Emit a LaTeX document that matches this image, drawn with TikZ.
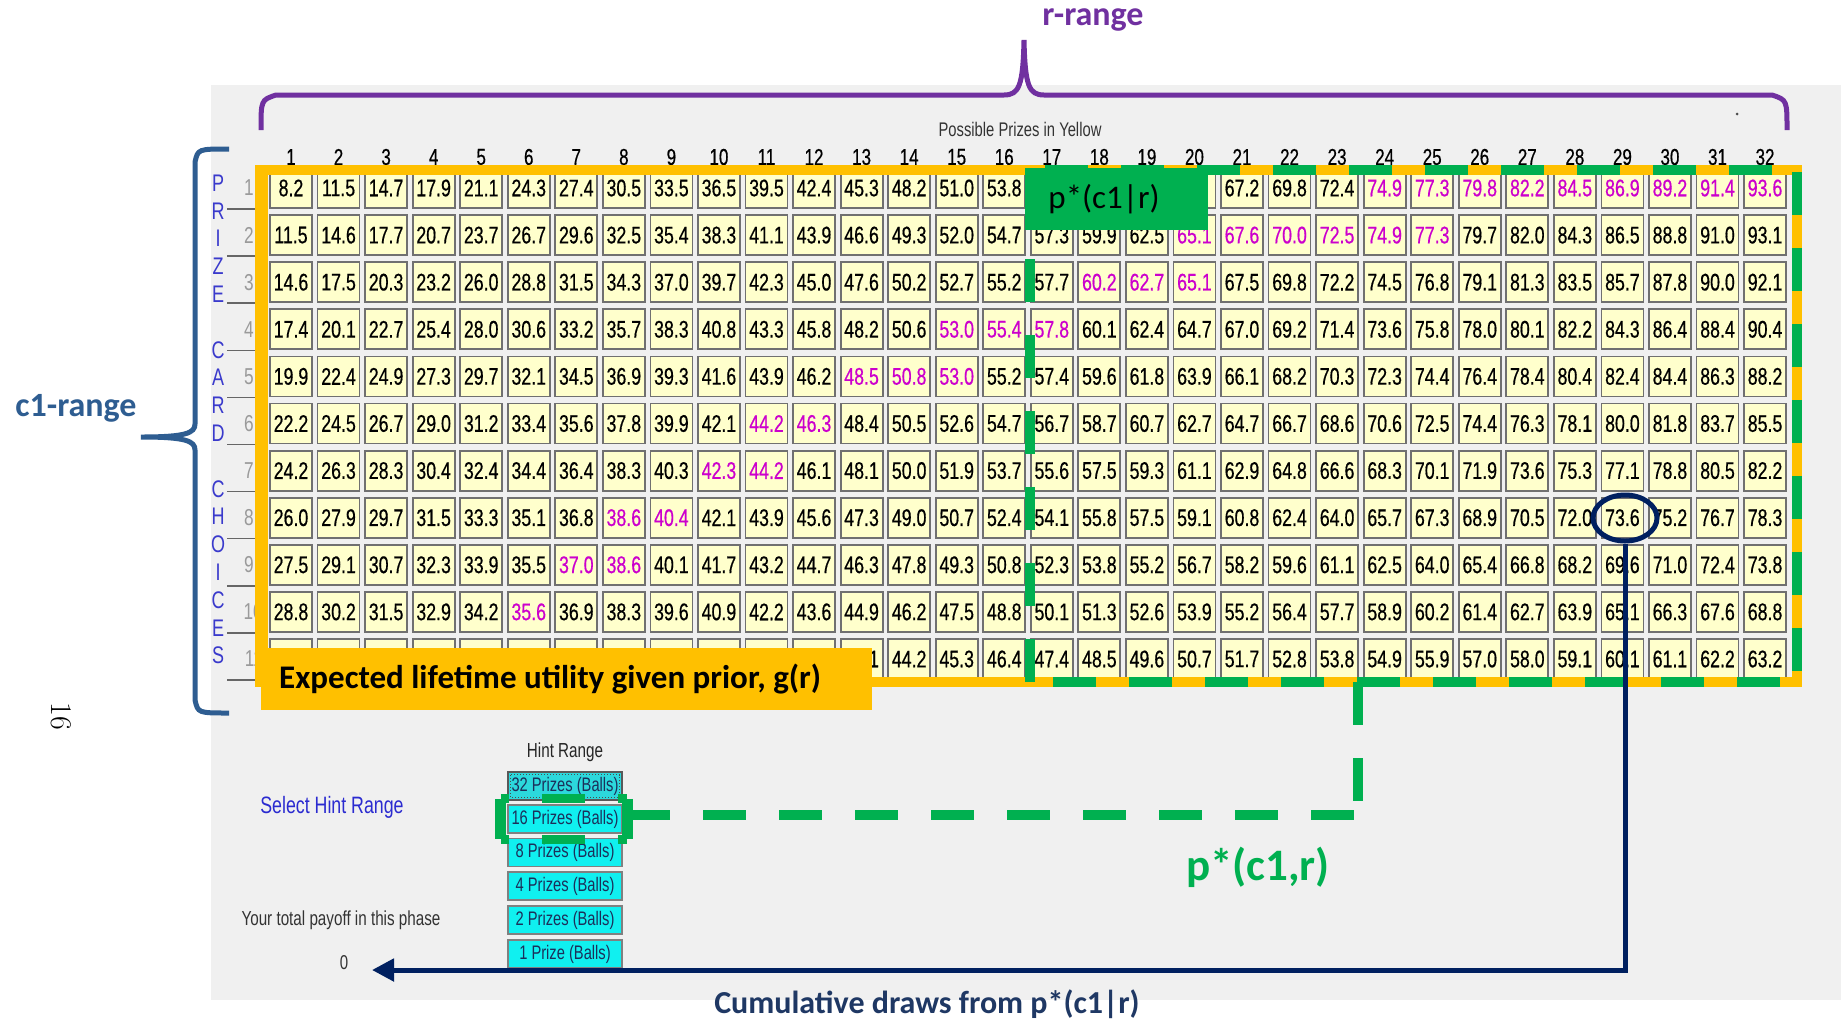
\documentclass[tikz,border=0pt]{standalone}
\usepackage{fontspec}
\newfontfamily\narfont[FakeStretch=0.75]{Liberation Sans}
\newfontfamily\cellfont[FakeStretch=0.74,FakeBold=0.5]{Liberation Sans}
\newfontfamily\calfont{Carlito}
\newcommand{\nocellval}{}
\usetikzlibrary{shapes.geometric,arrows.meta}
\definecolor{bggray}{HTML}{F0F0F0}
\definecolor{orng}{HTML}{FFC000}
\definecolor{grn}{HTML}{00B050}
\definecolor{purp}{HTML}{7030A0}
\definecolor{navy}{HTML}{002060}
\definecolor{navytxt}{HTML}{1F3864}
\definecolor{bblue}{HTML}{2E5D91}
\definecolor{mag}{HTML}{CC00CC}
\definecolor{cellyel}{HTML}{FFFFCC}
\definecolor{cellbd}{HTML}{707070}
\definecolor{cyanbtn}{HTML}{10F0F0}
\definecolor{selbtn}{HTML}{2CD8DC}
\definecolor{btntxt}{HTML}{1C2F5A}
\definecolor{selblue}{HTML}{2B2BD0}
\definecolor{lettblue}{HTML}{3A3ACC}
\definecolor{rowgray}{HTML}{9A9A9A}
\begin{document}
\begin{tikzpicture}[x=1pt,y=-1pt,
  cellbox/.style={rectangle,minimum width=42pt,minimum height=40pt,inner sep=0pt,
    fill=cellyel,draw=cellbd,line width=1.8pt,font=\cellfont\fontsize{24}{24}\selectfont},
  colhead/.style={inner sep=0pt,font=\cellfont\fontsize{23}{23}\selectfont},
  rowlab/.style={inner sep=0pt,text=rowgray,font=\narfont\fontsize{23}{23}\selectfont},
  letter/.style={inner sep=0pt,text=lettblue,font=\narfont\fontsize{24}{24}\selectfont},
  btn/.style={rectangle,minimum width=114pt,minimum height=28pt,inner sep=0pt,
    fill=cyanbtn,draw=gray,line width=1.2pt,text=btntxt,font=\narfont\fontsize{19.6}{20}\selectfont},
  gdash/.style={grn,line width=10pt,dash pattern=on 43pt off 33pt},
  calb/.style={inner sep=0pt,font=\calfont\bfseries\fontsize{33}{33}\selectfont},
]
\useasboundingbox (0,0) rectangle (1841,1021);
\fill[white] (0,0) rectangle (1841,1021);
\fill[bggray] (211,85) rectangle (1841,1000);

% header
\node[inner sep=0pt,text=black!80,font=\narfont\fontsize{19.7}{20}\selectfont] (pp) at (1020,129) {Possible Prizes in Yellow};
\fill[black!70] (1737,114) circle (1.5pt);
\foreach \c in {1,...,32}
  \node[colhead] (h\c) at ({291+(\c-1)*47.55},157) {\c};

% row labels
\foreach \r in {1,...,11}{
  \draw[black!60,line width=1.5pt] (227,{188+(\r-1)*47.1+21}) -- (258,{188+(\r-1)*47.1+21});
}
\foreach \r in {1,...,9}
  \node[rowlab] (rl\r) at (249,{188+(\r-1)*47.1}) {\r};
\foreach \r in {10,11}
  \node[rowlab,anchor=east] (rl\r) at (263,{188+(\r-1)*47.1}) {\r};
\foreach \k/\L in {0/P,1/R,2/I,3/Z,4/E,6/C,7/A,8/R,9/D,11/C,12/H,13/O,14/I,15/C,16/E,17/S}
  \node[letter] (L\k) at (218,{183+\k*27.8}) {\L};

% cells
\foreach \r/\a/\b/\vals in {%
1/24/32/{8.2,11.5,14.7,17.9,21.1,24.3,27.4,30.5,33.5,36.5,39.5,42.4,45.3,48.2,51.0,53.8,\nocellval,\nocellval,\nocellval,\nocellval,67.2,69.8,72.4,74.9,77.3,79.8,82.2,84.5,86.9,89.2,91.4,93.6},
2/20/25/{11.5,14.6,17.7,20.7,23.7,26.7,29.6,32.5,35.4,38.3,41.1,43.9,46.6,49.3,52.0,54.7,57.3,59.9,62.5,65.1,67.6,70.0,72.5,74.9,77.3,79.7,82.0,84.3,86.5,88.8,91.0,93.1},
3/18/20/{14.6,17.5,20.3,23.2,26.0,28.8,31.5,34.3,37.0,39.7,42.3,45.0,47.6,50.2,52.7,55.2,57.7,60.2,62.7,65.1,67.5,69.8,72.2,74.5,76.8,79.1,81.3,83.5,85.7,87.8,90.0,92.1},
4/15/17/{17.4,20.1,22.7,25.4,28.0,30.6,33.2,35.7,38.3,40.8,43.3,45.8,48.2,50.6,53.0,55.4,57.8,60.1,62.4,64.7,67.0,69.2,71.4,73.6,75.8,78.0,80.1,82.2,84.3,86.4,88.4,90.4},
5/13/15/{19.9,22.4,24.9,27.3,29.7,32.1,34.5,36.9,39.3,41.6,43.9,46.2,48.5,50.8,53.0,55.2,57.4,59.6,61.8,63.9,66.1,68.2,70.3,72.3,74.4,76.4,78.4,80.4,82.4,84.4,86.3,88.2},
6/11/12/{22.2,24.5,26.7,29.0,31.2,33.4,35.6,37.8,39.9,42.1,44.2,46.3,48.4,50.5,52.6,54.7,56.7,58.7,60.7,62.7,64.7,66.7,68.6,70.6,72.5,74.4,76.3,78.1,80.0,81.8,83.7,85.5},
7/10/11/{24.2,26.3,28.3,30.4,32.4,34.4,36.4,38.3,40.3,42.3,44.2,46.1,48.1,50.0,51.9,53.7,55.6,57.5,59.3,61.1,62.9,64.8,66.6,68.3,70.1,71.9,73.6,75.3,77.1,78.8,80.5,82.2},
8/8/9/{26.0,27.9,29.7,31.5,33.3,35.1,36.8,38.6,40.4,42.1,43.9,45.6,47.3,49.0,50.7,52.4,54.1,55.8,57.5,59.1,60.8,62.4,64.0,65.7,67.3,68.9,70.5,72.0,73.6,75.2,76.7,78.3},
9/7/8/{27.5,29.1,30.7,32.3,33.9,35.5,37.0,38.6,40.1,41.7,43.2,44.7,46.3,47.8,49.3,50.8,52.3,53.8,55.2,56.7,58.2,59.6,61.1,62.5,64.0,65.4,66.8,68.2,69.6,71.0,72.4,73.8},
10/6/6/{28.8,30.2,31.5,32.9,34.2,35.6,36.9,38.3,39.6,40.9,42.2,43.6,44.9,46.2,47.5,48.8,50.1,51.3,52.6,53.9,55.2,56.4,57.7,58.9,60.2,61.4,62.7,63.9,65.1,66.3,67.6,68.8},
11/99/0/{\nocellval,\nocellval,\nocellval,\nocellval,\nocellval,\nocellval,\nocellval,\nocellval,\nocellval,\nocellval,\nocellval,\nocellval,43.1,44.2,45.3,46.4,47.4,48.5,49.6,50.7,51.7,52.8,53.8,54.9,55.9,57.0,58.0,59.1,60.1,61.1,62.2,63.2}}{%
  \foreach \v [count=\c] in \vals {
    \ifnum\c<\a\relax\def\tc{black}\else\ifnum\c>\b\relax\def\tc{black}\else\def\tc{mag}\fi\fi
    \node[cellbox,text=\tc] (c-\r-\c) at ({291+(\c-1)*47.55},{188+(\r-1)*47.1}) {\v};
  }
}

% orange frame
\draw[orng,line width=10pt] (262,170) rectangle (1797,682);
\fill[orng] (255,165) rectangle (268,687);
% green dashed region
\draw[gdash] (1045,170) -- (1797,170);
\draw[gdash] (1797,172) -- (1797,682);
\draw[gdash] (1780,682) -- (1030,682);
\draw[gdash] (1030,682) -- (1030,170);
% p*(c1|r) box
\node[rectangle,fill=grn,minimum width=183pt,minimum height=62pt,inner sep=0pt] (pbox) at (1116.5,199) {};
\node[inner sep=0pt,font=\calfont\fontsize{33}{33}\selectfont] (ptxt) at (1104,199) {p*(c1|r)};
% orange label
\node[rectangle,fill=orng,minimum width=611pt,minimum height=62pt,inner sep=0pt] (obox) at (566.5,679) {};
\node[calb,anchor=west] (otxt) at (279,679) {Expected lifetime utility given prior, g(r)};

% purple brace
\draw[purp,line width=5pt] (261,130) .. controls (261,100) .. (276,95) -- (1004,95)
  .. controls (1019,95) and (1023,86) .. (1024,40)
  .. controls (1025,86) and (1029,95) .. (1044,95) -- (1772,95)
  .. controls (1787,100) .. (1787,130);
\node[calb,text=purp,font=\calfont\bfseries\fontsize{34}{34}\selectfont] (rr) at (1093,20) {r-range};

% blue brace
\draw[bblue,line width=5pt] (229,149) .. controls (198,149) .. (195,162) -- (195,424)
  .. controls (195,433) and (186,437) .. (141,437)
  .. controls (186,437) and (195,441) .. (195,450) -- (195,700)
  .. controls (198,713) .. (229,713);
\node[calb,text=bblue,font=\calfont\bfseries\fontsize{34}{34}\selectfont] (cr) at (76,408) {c1-range};

% page number
\node[inner sep=0pt,rotate=-90,font=\fontsize{30}{30}\selectfont] (pg) at (61,716) {16};

% hint range panel
\node[inner sep=0pt,text=black!85,font=\narfont\fontsize{20.3}{21}\selectfont] (hr) at (565,752) {Hint Range};
\node[btn,fill=selbtn,draw=black!65,line width=2.5pt] (b32) at (565,786) {32 Prizes (Balls)};
\draw[black!70,line width=1pt,dotted] ([shift={(4pt,-4pt)}]b32.north west) rectangle ([shift={(-4pt,4pt)}]b32.south east);
\node[btn] (b16) at (565,819) {16 Prizes (Balls)};
\node[btn] (b8) at (565,852.5) {8 Prizes (Balls)};
\node[btn] (b4) at (565,886) {4 Prizes (Balls)};
\node[btn] (b2) at (565,920) {2 Prizes (Balls)};
\node[btn] (b1) at (565,954) {1 Prize (Balls)};
\node[inner sep=0pt,text=selblue,font=\narfont\fontsize{23.7}{24}\selectfont] (shr) at (332,807) {Select Hint Range};
\node[inner sep=0pt,text=black!80,font=\narfont\fontsize{20.3}{21}\selectfont] (tp) at (341,920) {Your total payoff in this phase};
\node[inner sep=0pt,text=black!80,font=\narfont\fontsize{20}{21}\selectfont] (zero) at (344,963) {0};

% green selection and connector
\node[rectangle,minimum width=126pt,minimum height=40pt,inner sep=0pt] (sel) at (564,819) {};
\draw[grn,line width=11pt] (sel.north west) -- (sel.south west);
\draw[grn,line width=11pt] (sel.north east) -- (sel.south east);
\draw[grn,line width=9pt,dash pattern=on 43pt off 33pt,dash phase=35pt] (sel.north west) -- (sel.north east);
\draw[grn,line width=9pt,dash pattern=on 43pt off 33pt,dash phase=35pt] (sel.south west) -- (sel.south east);
\coordinate (selr) at ([yshift=4pt]sel.east);
\coordinate (gtop) at (1358,682);
\coordinate (gcorner) at (gtop |- selr);
\draw[gdash] (selr) -- (gcorner);
\draw[gdash] (gtop) -- (gcorner);

% navy circle and arrow
\node[ellipse,draw=navy,line width=5pt,minimum width=64pt,minimum height=46pt,inner sep=0pt] (circ) at (1625,518) {};
\coordinate (arrtip) at (372,970);
\draw[navy,line width=5pt,-{Triangle[length=22pt,width=22pt]}] (circ.south) |- (arrtip);

% labels
\node[inner sep=0pt,text=grn,font=\calfont\bfseries\fontsize{45}{45}\selectfont] (pcr) at (1258,867) {p*(c1,r)};
\node[inner sep=0pt,text=navytxt,font=\calfont\bfseries\fontsize{32}{32}\selectfont] (cum) at (927,1004) {Cumulative draws from p*(c1|r)};
\end{tikzpicture}
\end{document}
